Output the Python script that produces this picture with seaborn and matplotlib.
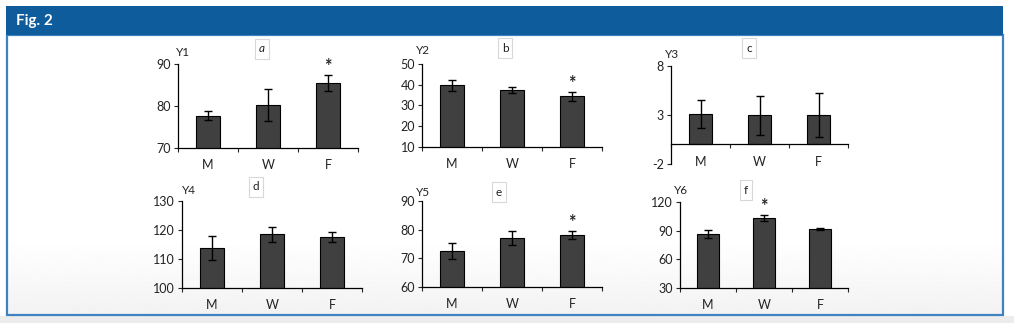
import numpy as np
import pandas as pd
import seaborn as sns
import matplotlib.pyplot as plt
from matplotlib.patches import Rectangle

sns.set_style("white")
plt.rcParams['font.family'] = ['Lato', 'DejaVu Sans']
plt.rcParams['axes.unicode_minus'] = False

groups = ['M', 'W', 'F']

y1_mean = [77.7, 80.2, 85.5]
y1_err = [1.1, 3.8, 1.9]
y2_mean = [39.7, 37.3, 34.4]
y2_err = [2.6, 1.5, 2.1]
y3_mean = [3.1, 2.95, 3.0]
y3_err = [1.4, 2.0, 2.2]
y4_mean = [113.7, 118.5, 117.5]
y4_err = [4.2, 2.7, 1.8]
y5_mean = [72.6, 77.1, 78.1]
y5_err = [2.9, 2.6, 1.5]
y6_mean = [86.6, 103.1, 92.0]
y6_err = [4.4, 3.2, 1.0]

y_names = ['Y1', 'Y2', 'Y3', 'Y4', 'Y5', 'Y6']
panel_letters = ['a', 'b', 'c', 'd', 'e', 'f']
starred = ['F', 'F', None, None, 'F', 'W']
y_ticks = [[70, 80, 90], [10, 20, 30, 40, 50], [-2, 3, 8],
           [100, 110, 120, 130], [60, 70, 80, 90], [30, 60, 90, 120]]

means = [y1_mean, y2_mean, y3_mean, y4_mean, y5_mean, y6_mean]
errs = [y1_err, y2_err, y3_err, y4_err, y5_err, y6_err]

W, H = 1014, 323
fig = plt.figure(figsize=(W / 100, H / 100), dpi=100)
fig.patch.set_facecolor('white')

# background decoration in pixel coords
bg = fig.add_axes([0, 0, 1, 1], zorder=-1)
bg.set_xlim(0, W)
bg.set_ylim(H, 0)
bg.axis('off')
bg.add_patch(Rectangle((0, 316), W, 10, color='#ececec', lw=0))
grad = np.linspace(1, 0.95, 100)[:, None] * np.ones((1, 2))
bg.imshow(grad, extent=(7, 1002, 315, 240), cmap='gray', vmin=0, vmax=1,
          aspect='auto', zorder=0)
bg.add_patch(Rectangle((6.5, 35), 996, 280, facecolor='none',
                       edgecolor='#3f82c2', lw=1.6, zorder=2))
bg.add_patch(Rectangle((6, 6), 997, 29, color='#0e5c9c', lw=0, zorder=3))
bg.text(16, 21, 'Fig. 2', color='white', fontsize=11, fontweight='bold',
        va='center', ha='left', zorder=4)

# axes rectangles in pixels: left, top, right, bottom
boxes = [(178, 64, 358, 148), (422, 64, 602, 147), (671, 66, 848, 164),
         (182, 201, 362, 288), (422, 201, 602, 287), (680, 202, 848, 288)]
ylab_pos = [(183, 53), (423, 51), (672, 54), (189, 190), (423, 192), (681, 190)]
letter_pos = [(262, 49), (505, 48), (749, 48), (256, 187), (499, 192), (746, 190)]

for i in range(6):
    l, t, r, b = boxes[i]
    ax = fig.add_axes([l / W, 1 - b / H, (r - l) / W, (b - t) / H])
    ax.set_facecolor('none')
    df = pd.DataFrame({'group': groups, 'value': means[i], 'err': errs[i]})
    lo = y_ticks[i][0]
    sns.barplot(data=df, x='group', y='value', ax=ax, color='#404040',
                edgecolor='black', linewidth=0.8, width=0.4, errorbar=None,
                saturation=1)
    ax.errorbar(range(3), df['value'], yerr=df['err'], fmt='none',
                ecolor='black', elinewidth=1, capsize=3, capthick=1)
    ax.set_xlim(-0.5, 2.5)
    ax.set_ylim(lo, y_ticks[i][-1])
    ax.set_yticks(y_ticks[i])
    ax.set_xticks(range(3))
    ax.set_xticks([-0.5, 0.5, 1.5, 2.5], minor=True)
    ax.tick_params(axis='x', which='major', length=0, pad=8, labelsize=9,
                   labelcolor='#222222')
    ax.tick_params(axis='x', which='minor', length=3, direction='out',
                   width=0.8, bottom=True)
    ax.tick_params(axis='y', length=3, width=0.8, direction='out', left=True,
                   labelsize=9, pad=2, labelcolor='#222222')
    ax.set_xlabel('')
    ax.set_ylabel('')
    for s in ['top', 'right']:
        ax.spines[s].set_visible(False)
    for s in ['left', 'bottom']:
        ax.spines[s].set_linewidth(0.9)
        ax.spines[s].set_color('black')
    if lo < 0:
        ax.spines['bottom'].set_position(('data', 0))
    if starred[i] is not None:
        k = groups.index(starred[i])
        ax.annotate('*', (k, means[i][k] + errs[i][k]), xytext=(0, 0),
                    textcoords='offset points', ha='center', va='bottom',
                    fontsize=13, fontweight='bold', annotation_clip=False)
    bg.text(ylab_pos[i][0], ylab_pos[i][1], y_names[i], fontsize=8.5,
            ha='center', va='center', color='#222222', zorder=5)
    bg.text(letter_pos[i][0], letter_pos[i][1], panel_letters[i], fontsize=8.5,
            ha='center', va='center', color='#222222', zorder=5,
            style='italic' if i == 0 else 'normal',
            bbox=dict(boxstyle='square,pad=0.35', facecolor='white',
                      edgecolor='#d8d8d8', lw=0.8))

fig.savefig('out.png', dpi=100)
